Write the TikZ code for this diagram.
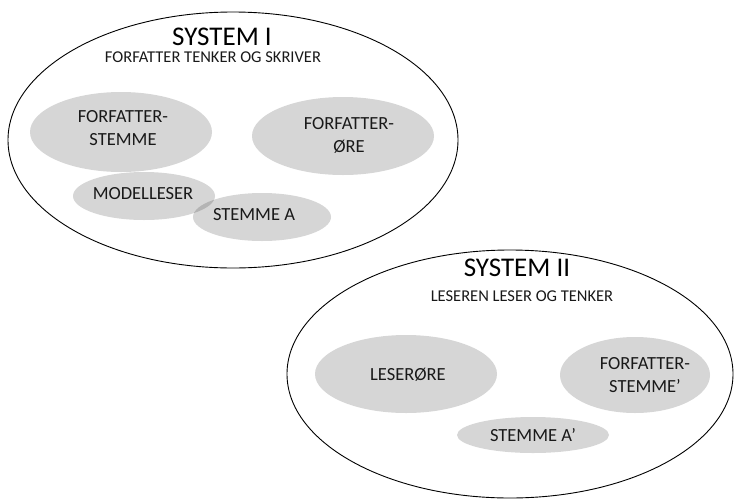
\documentclass[tikz,border=0pt]{standalone}
\usepackage{fontspec}
\setmainfont{Carlito}
\begin{document}
\begin{tikzpicture}[x=1pt,y=-1pt,
  part/.style={fill=black, fill opacity=0.16, text opacity=1, draw=none},
  lbl/.style={font=\fontsize{18.5}{23}\selectfont, align=center, text=black!90},
  ttl/.style={font=\fontsize{27}{30}\selectfont, text=black},
  sub/.style={font=\fontsize{16.5}{18}\selectfont, text=black!90}]
\useasboundingbox (0,0) rectangle (734,499);
% outer systems
\draw[line width=0.9pt] (233,140) ellipse [x radius=225, y radius=128];
\draw[line width=0.9pt] (510,374) ellipse [x radius=223, y radius=124];
% parts of system I
\fill[part] (121,132) ellipse [x radius=91, y radius=40];
\fill[part] (343,136) ellipse [x radius=91, y radius=39];
\fill[part] (144,196) ellipse [x radius=71, y radius=24];
\fill[part] (262,217) ellipse [x radius=69, y radius=24];
% parts of system II
\fill[part] (406,374) ellipse [x radius=91, y radius=39];
\fill[part] (635,375) ellipse [x radius=75, y radius=38];
\fill[part] (533,435) ellipse [x radius=76, y radius=18];
% titles
\node[ttl] (t1) at (222,37) {SYSTEM I};
\node[sub] (s1) at (213,57) {FORFATTER TENKER OG SKRIVER};
\node[ttl] (t2) at (517,268) {SYSTEM II};
\node[sub] (s2) at (522,296) {LESEREN LESER OG TENKER};
% labels
\node[lbl] (fs) at (123,128) {FORFATTER-\\STEMME};
\node[lbl] (fo) at (349,135) {FORFATTER-\\ØRE};
\node[lbl] (ml) at (143,194) {MODELLESER};
\node[lbl] (sa) at (254,215) {STEMME A};
\node[lbl] (lo) at (408,375) {LESERØRE};
\node[lbl] (fs2) at (645,375) {FORFATTER-\\STEMME’};
\node[lbl] (sa2) at (533,435) {STEMME A’};
\end{tikzpicture}
\end{document}
